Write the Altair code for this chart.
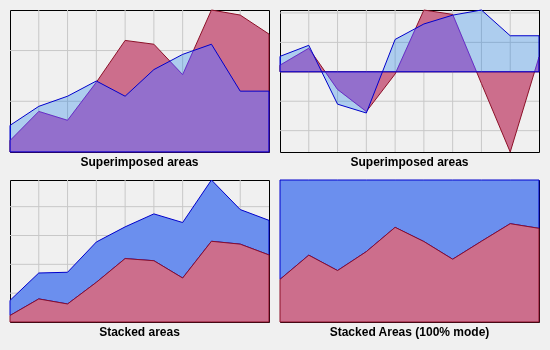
import altair as alt
import pandas as pd

# ---- data ----
x_idx = list(range(10))
red1 = [4.5, 16, 12.5, 27.5, 44, 42.5, 30.5, 56, 54, 46.5]
blue1 = [10.5, 18, 22, 28, 22, 32.5, 38.5, 42.5, 24, 24]
red2 = [4.5, 16, -12, -27, -1.5, 42, 39, -8, -54.5, 10]
blue2 = [10.5, 18, -22, -28, 22, 32.5, 38.5, 42, 24.5, 24.5]
titles = ["Superimposed areas", "Superimposed areas",
          "Stacked areas", "Stacked Areas (100% mode)"]
xgrid = [1, 2, 3, 4, 5, 6, 7, 8]
ygrid1 = [20, 40]
ygrid2 = [-40, -20, 0, 20, 40]
ygrid3 = [20, 40, 60, 80]

PINK = "#cc6e8c"
DARKRED = "#8c1028"
BLUE_EDGE = "#0000cc"
BLUE_A = "#0073e9"
BLUE3 = "#6b8fee"
GRID = "#c8c8c8"
BG = "#f0f0f0"
W, H = 259, 142

df1 = pd.DataFrame({"x": x_idx, "red": red1, "blue": blue1})
df2 = pd.DataFrame({"x": x_idx, "red": red2, "blue": blue2})
dfx = pd.DataFrame({"gx": xgrid})

xs = alt.Scale(domain=[0, 9], nice=False, zero=False, padding=0)
J = "round"


def ttl(t):
    return alt.TitleParams(text=t, orient="bottom", anchor="middle", fontSize=12,
                           fontWeight="bold", font="Liberation Sans", color="black",
                           offset=4)


def grids(ys, yvals):
    v = alt.Chart(dfx).mark_rule(color=GRID, strokeWidth=1).encode(
        x=alt.X("gx:Q", scale=xs, axis=None))
    layers = [v]
    if yvals:
        h = alt.Chart(pd.DataFrame({"gy": yvals})).mark_rule(color=GRID, strokeWidth=1).encode(
            y=alt.Y("gy:Q", scale=ys, axis=None))
        layers.append(h)
    return layers


def superimposed(df, dom, gvals, t):
    ys = alt.Scale(domain=dom, nice=False, zero=False)
    base = alt.Chart(df)
    X = alt.X("x:Q", scale=xs, axis=None)
    r = base.mark_area(fill=PINK, stroke=DARKRED, strokeWidth=1, strokeJoin=J).encode(
        x=X, y=alt.Y("red:Q", scale=ys, axis=None), y2=alt.datum(0))
    b = base.mark_area(fill=BLUE_A, fillOpacity=0.28, stroke=BLUE_EDGE, strokeWidth=1,
                       strokeJoin=J).encode(
        x=X, y=alt.Y("blue:Q", scale=ys, axis=None), y2=alt.datum(0))
    b2 = base.mark_area(fill=BLUE_EDGE, blend="lighten").encode(
        x=X, y=alt.Y("blue:Q", scale=ys, axis=None), y2=alt.datum(0))
    return alt.layer(*grids(ys, gvals), r, b, b2).properties(width=W, height=H, title=ttl(t))


tot_max = max(r + b for r, b in zip(red1, blue1))
c1 = superimposed(df1, [0, max(red1 + blue1)], ygrid1, titles[0])
c2 = superimposed(df2, [min(red2 + blue2), max(red2 + blue2)], ygrid2, titles[1])

# stacked
X = alt.X("x:Q", scale=xs, axis=None)
base3 = alt.Chart(df1).transform_calculate(total="datum.red + datum.blue")
ys3 = alt.Scale(domain=[0, tot_max], nice=False, zero=False)
b3 = base3.mark_area(fill=BLUE3, stroke=BLUE_EDGE, strokeWidth=1, strokeJoin=J).encode(
    x=X, y=alt.Y("total:Q", scale=ys3, axis=None), y2="red:Q")
r3 = base3.mark_area(fill=PINK, stroke=DARKRED, strokeWidth=1, strokeJoin=J).encode(
    x=X, y=alt.Y("red:Q", scale=ys3, axis=None), y2=alt.datum(0))
c3 = alt.layer(*grids(ys3, ygrid3), b3, r3).properties(width=W, height=H, title=ttl(titles[2]))

# 100% stacked
base4 = alt.Chart(df1).transform_calculate(
    share="datum.red / (datum.red + datum.blue)", one="1")
ys4 = alt.Scale(domain=[0, 1], nice=False, zero=False)
b4 = base4.mark_area(fill=BLUE3, stroke=BLUE_EDGE, strokeWidth=1, strokeJoin=J).encode(
    x=X, y=alt.Y("one:Q", scale=ys4, axis=None), y2="share:Q")
r4 = base4.mark_area(fill=PINK, stroke=DARKRED, strokeWidth=1, strokeJoin=J).encode(
    x=X, y=alt.Y("share:Q", scale=ys4, axis=None), y2=alt.datum(0))
c4 = alt.layer(*grids(ys4, []), b4, r4).properties(width=W, height=H, title=ttl(titles[3]))

chart = alt.concat(c1, c2, c3, c4, columns=2, bounds="flush",
                   spacing=alt.RowColnumber(row=28, column=11)).properties(
    padding={"left": 9, "top": 9, "right": 10, "bottom": 14},
    background=BG,
).configure_view(stroke="black", strokeWidth=1, fill=BG)

chart.save("out.html", embed_options={"renderer": "svg", "actions": False})
